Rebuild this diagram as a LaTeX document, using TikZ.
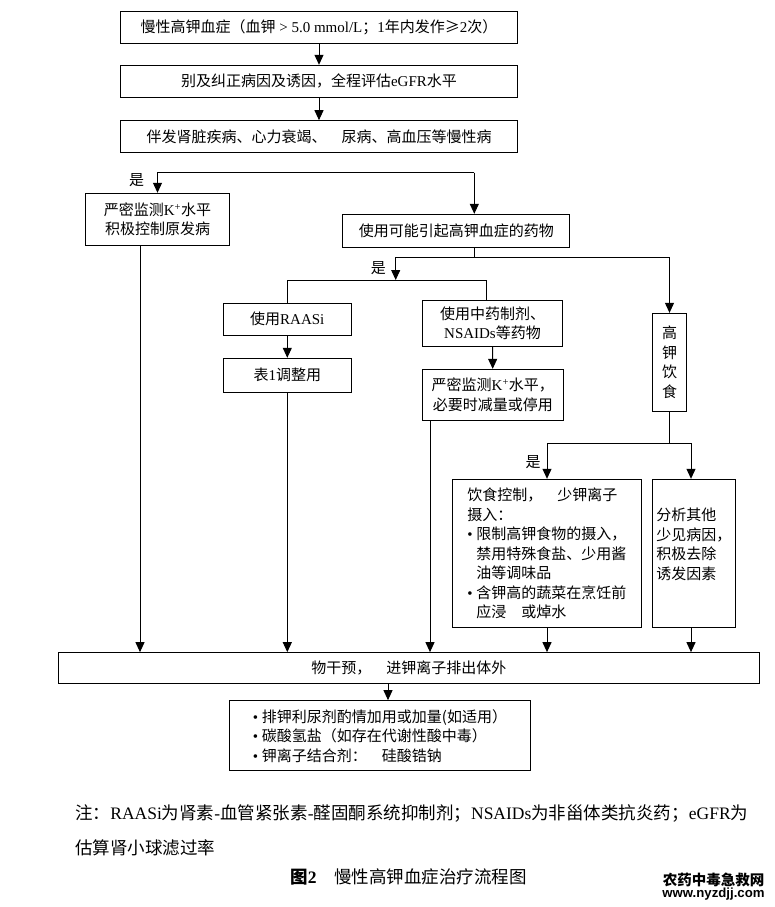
\documentclass[tikz,border=0pt]{standalone}
\usepackage{fontspec}
\setmainfont{Noto Sans CJK SC}
\newfontfamily\lat{Liberation Serif}
\newfontfamily\wsans{Liberation Sans}
\usetikzlibrary{arrows.meta}
\newcommand\en[1]{{\lat #1}}
\newcommand\fs{\fontsize{15}{19.5}\selectfont}
\newcommand\dotitem{\makebox[9pt][l]{\lat •}}
\newcommand\dotgap{\hspace*{9pt}}

\begin{document}
\begin{tikzpicture}[x=1pt,y=-1pt,line width=1pt,>={Triangle[length=10pt,width=9pt]},
  box/.style={draw,inner sep=0pt,align=center,font=\fs},
  lbox/.style={box,align=left}]
\useasboundingbox (0,0) rectangle (775,907);
% boxes
\node[box,minimum width=397,minimum height=31.5] (hyper) at (319,27.5)
  {慢性高钾血症（血钾\en{ > 5.0 mmol/L}；\en{1}年内发作≥\en{2}次）};
\node[box,minimum width=397,minimum height=32] (cause) at (319,81.3)
  {别及纠正病因及诱因，全程评估\en{eGFR}水平};
\node[box,minimum width=397,minimum height=31.6] (comorb) at (319,136.5)
  {伴发肾脏疾病、心力衰竭、　尿病、高血压等慢性病};
\node[box,minimum width=143.6,minimum height=52] (monitor) at (157.5,219.3)
  {严密监测\en{K}\textsuperscript{\en{+}}水平\\积极控制原发病};
\node[box,minimum width=227.3,minimum height=33] (drug) at (456.3,230.8)
  {使用可能引起高钾血症的药物};
\node[box,minimum width=128,minimum height=32] (raasi) at (287.3,319.3)
  {使用\en{RAASi}};
\node[box,minimum width=128,minimum height=34] (tabone) at (287.3,375.3)
  {表\en{1}调整用};
\node[box,minimum width=140.4,minimum height=45.3] (nsaid) at (492.5,323.4)
  {使用中药制剂、\\\en{NSAIDs}等药物};
\node[box,minimum width=140.4,minimum height=50.7] (nsaidmon) at (492.8,394.7)
  {严密监测\en{K}\textsuperscript{\en{+}}水平，\\必要时减量或停用};
\node[box,minimum width=34.4,minimum height=97.7] (diet) at (669.5,362.2)
  {高\\钾\\饮\\食};
\node[lbox,minimum width=189,minimum height=148] (dietctl) at (546.8,553.3)
  {饮食控制，　少钾离子\\摄入：\\\dotitem 限制高钾食物的摄入，\\\dotgap 禁用特殊食盐、少用酱\\\dotgap 油等调味品\\\dotitem 含钾高的蔬菜在烹饪前\\\dotgap 应浸　或焯水};
\node[lbox,minimum width=83,minimum height=148] (other) at (693.8,553.3)
  {分析其他\\少见病因，\\积极去除\\诱发因素\\\mbox{}};
\node[box,minimum width=701,minimum height=31.3] (excrete) at (408.8,668.3)
  {物干预，　进钾离子排出体外};
\node[lbox,minimum width=301.4,minimum height=70.3] (drugs) at (380,735.8)
  {\dotitem 排钾利尿剂酌情加用或加量(如适用）\\\dotitem 碳酸氢盐（如存在代谢性酸中毒）\\\dotitem 钾离子结合剂：　硅酸锆钠};
% branch points
\coordinate (top) at (474.3,172.7);
\coordinate (fork) at (474.3,257.3);
\coordinate (bar) at (395.7,280);
\coordinate (barR) at (486.7,280);
\coordinate (dfork) at (669.5,443.3);
\coordinate (colA) at (140,0);
\coordinate (colC) at (430,0);
\coordinate (colD) at (547,0);
\coordinate (colE) at (691,0);
\coordinate (colF) at (388,0);
% connectors
\draw[->] (hyper) -- (cause);
\draw[->] (cause) -- (comorb);
\draw[->] (top) -| (monitor.north);
\draw[->] (top) -- (top |- drug.north);
\draw[->] (monitor.south -| colA) -- (excrete.north -| colA);
\draw (drug.south -| fork) -- (fork);
\draw[->] (fork) -| (bar);
\draw[->] (fork) -| (diet.north);
\draw (raasi) |- (barR) -- (barR |- nsaid.north);
\draw[->] (raasi) -- (tabone);
\draw[->] (tabone.south) -- (excrete.north -| tabone.south);
\draw[->] (nsaid) -- (nsaidmon);
\draw[->] (nsaidmon.south -| colC) -- (excrete.north -| colC);
\draw (diet) -- (dfork);
\draw[->] (dfork) -| (colD |- dietctl.north);
\draw[->] (dfork) -| (colE |- other.north);
\draw[->] (dietctl.south -| colD) -- (excrete.north -| colD);
\draw[->] (other.south -| colE) -- (excrete.north -| colE);
\draw[->] (excrete.south -| colF) -- (drugs.north -| colF);
% labels
\node[font=\fs] (yesA) at (136.7,180) {是};
\node[font=\fs] (yesB) at (378.3,268.3) {是};
\node[font=\fs] (yesC) at (533,461.7) {是};
% note and caption
\node[anchor=west,font=\fontsize{17.5}{21}\selectfont] (note1) at (71.6,813)
  {注：\en{RAASi}为肾素\en{-}血管紧张素\en{-}醛固酮系统抑制剂；\en{NSAIDs}为非甾体类抗炎药；\en{eGFR}为};
\node[anchor=west,font=\fontsize{17.5}{21}\selectfont] (note2) at (71.6,848)
  {估算肾小球滤过率};
\node[font=\fontsize{17.5}{21}\selectfont] (caption) at (408.5,877)
  {\textbf{图\en{2}}\quad 慢性高钾血症治疗流程图};
\node[font=\bfseries\fontsize{14.5}{15}\selectfont] (mark1) at (713.5,880) {农药中毒急救网};
\node[font=\wsans\bfseries\fontsize{13.2}{14}\selectfont] (mark2) at (713.5,894) {www.nyzdjj.com};
\end{tikzpicture}
\end{document}
